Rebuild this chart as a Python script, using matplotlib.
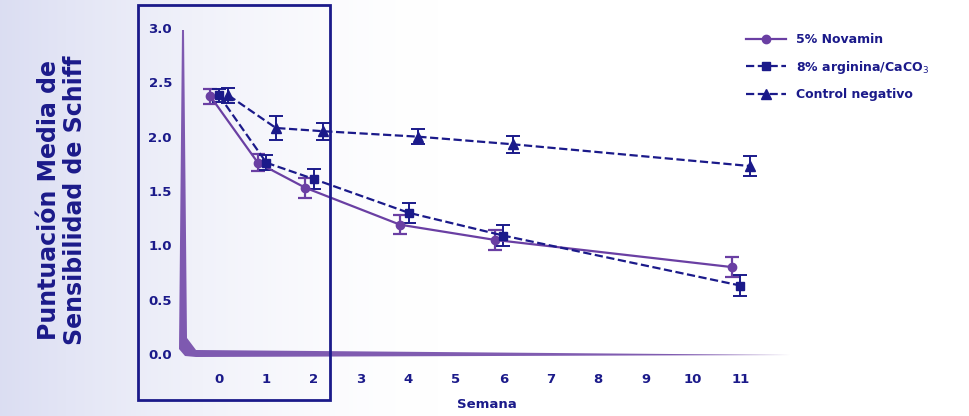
import numpy as np
import matplotlib
matplotlib.use('agg')
import matplotlib.pyplot as plt
from matplotlib.patches import Rectangle, Polygon
from matplotlib.lines import Line2D

weeks = [0, 1, 2, 4, 6, 11]
novamin = [2.37, 1.76, 1.53, 1.19, 1.05, 0.80]
novamin_err = [0.07, 0.08, 0.09, 0.09, 0.09, 0.09]
arginina = [2.38, 1.76, 1.61, 1.30, 1.09, 0.63]
arginina_err = [0.06, 0.07, 0.09, 0.09, 0.10, 0.10]
control = [2.38, 2.08, 2.05, 2.00, 1.93, 1.73]
control_err = [0.07, 0.11, 0.08, 0.07, 0.08, 0.09]
xticks = list(range(12))
yticks = [0.0, 0.5, 1.0, 1.5, 2.0, 2.5, 3.0]

purple = '#6a3fa3'
navy = '#1b1a8a'
W, H = 970, 416

fig = plt.figure(figsize=(9.7, 4.16), dpi=100)

# background gradient
bg = fig.add_axes([0, 0, 1, 1])
xs = np.linspace(0, 1, 400)
grad = np.clip(1 - xs / 0.45, 0, 1)[None, :] ** 1.5
img = np.ones((2, 400, 3))
tint = np.array([0.86, 0.87, 0.95])
img[:] = 1 - grad[..., None] * (1 - tint)
bg.imshow(img, aspect='auto', extent=[0, 1, 0, 1])
bg.axis('off')

def fx(px):
    return px / W

def fy(py):
    return 1 - py / H

ax = fig.add_axes([fx(183), fy(354), (790 - 183) / W, (354 - 28) / H])
ax.patch.set_alpha(0)
ax.set_xlim(-0.76, 12.05)
ax.set_ylim(0, 3.0)
for s in ax.spines.values():
    s.set_visible(False)

ax.errorbar(np.array(weeks) - 0.18, novamin, yerr=novamin_err, color=purple, lw=1.6,
            marker='o', ms=6, capsize=5, elinewidth=1.6, capthick=1.6)
ax.errorbar(np.array(weeks), arginina, yerr=arginina_err, color=navy, lw=1.6, ls='--',
            marker='s', ms=6, capsize=5, elinewidth=1.4, capthick=1.4)
ax.errorbar(np.array(weeks) + 0.2, control, yerr=control_err, color=navy, lw=1.6, ls='--',
            marker='^', ms=7, capsize=5, elinewidth=1.4, capthick=1.4)

ax.set_xticks(xticks)
ax.set_yticks(yticks)
ax.set_yticklabels(['{:.1f}'.format(v) for v in yticks])
ax.tick_params(length=0, labelsize=9.5, labelcolor=navy, pad=14)
ax.tick_params(axis='y', pad=8)
for t in ax.get_xticklabels() + ax.get_yticklabels():
    t.set_fontweight('bold')
ax.set_xlabel('Semana', color=navy, fontsize=9.5, fontweight='bold', labelpad=8)

fig.text(fx(62), fy(200), 'Puntuación Media de\nSensibilidad de Schiff', rotation=90,
         ha='center', va='center', color=navy, fontsize=17, fontweight='heavy', linespacing=1.1)

# swoosh axis
pts = [(182, 30), (184, 30), (187, 338), (196, 350), (790, 355), (196, 357), (185, 356), (179, 349)]
fig.patches.append(Polygon([(fx(a), fy(b)) for a, b in pts], closed=True, transform=fig.transFigure,
                           facecolor=purple, edgecolor='none', alpha=0.85))

fig.patches.append(Rectangle((fx(138), fy(400)), (330 - 138) / W, (400 - 5) / H, transform=fig.transFigure,
                             fill=False, edgecolor=navy, lw=2))

handles = [
    Line2D([], [], color=purple, lw=1.6, marker='o', ms=6),
    Line2D([], [], color=navy, lw=1.6, ls='--', marker='s', ms=6),
    Line2D([], [], color=navy, lw=1.6, ls='--', marker='^', ms=7),
]
labels = ['5% Novamin', '8% arginina/CaCO$_3$', 'Control negativo']
leg = fig.legend(handles, labels, loc='upper left', bbox_to_anchor=(fx(735), fy(22)), frameon=False,
                 fontsize=9, handlelength=3.2, labelspacing=1.0)
for t in leg.get_texts():
    t.set_color(navy)
    t.set_fontweight('bold')

fig.savefig('out.png', dpi=100)
